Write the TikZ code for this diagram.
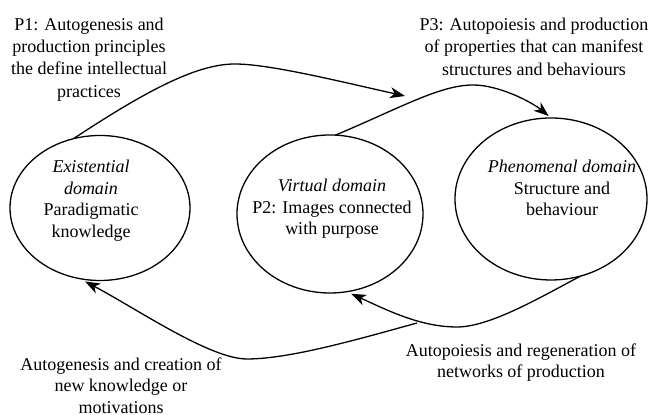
\documentclass[tikz,border=0pt]{standalone}
\usepackage{fontspec}
\setmainfont{Liberation Serif}
\usetikzlibrary{arrows.meta,shapes.geometric}
\begin{document}
\begin{tikzpicture}[x=0.5pt,y=-0.5pt,
  domainbox/.style={ellipse, draw, line width=0.65pt, inner sep=0pt, outer sep=0pt},
  txt/.style={align=center, inner sep=0pt, font=\fontsize{9}{10.75}\selectfont},
  toptxt/.style={align=center, inner sep=0pt, font=\fontsize{9}{11.1}\selectfont},
  flow/.style={draw, line width=0.65pt, -{Stealth[length=7.5pt,width=5.5pt,inset=2.2pt]}}]
\useasboundingbox (0,0) rectangle (650,415);

% the three domains
\node[domainbox, minimum width=90pt, minimum height=72.5pt] (exist) at (100,208) {};
\node[domainbox, minimum width=93pt, minimum height=79pt]   (virt)  at (330,214) {};
\node[domainbox, minimum width=96pt, minimum height=81pt]   (phen)  at (551,199) {};

% texts inside the domains
\node[txt] (existtxt) at (91,200.8) {\textit{Existential}\\\textit{domain}\\Paradigmatic\\knowledge};
\node[txt] (virttxt)  at (332,208.8) {\textit{Virtual domain}\\P2: Images connected\\with purpose};
\node[txt] (phentxt)  at (562,188) {\textit{Phenomenal domain}\\Structure and\\behaviour};

% process labels
\node[toptxt] (p1) at (89,59.5) {P1: Autogenesis and\\production principles\\the define intellectual\\practices};
\node[toptxt] (p3) at (534,46.7) {P3: Autopoiesis and production\\of properties that can manifest\\structures and behaviours};
\node[txt] (autogen) at (121,385.5) {Autogenesis and creation of\\new knowledge or\\motivations};
\node[txt] (autopoi) at (521,362.5) {Autopoiesis and regeneration of\\networks of production};

% free ends of connectors
\coordinate (p1tip)   at (405,96);
\coordinate (regroot) at (417,323);

% connectors
\draw[flow] (exist.111) .. controls (154,85.5) and (200,64) .. (235,64)
                        .. controls (270,64) and (342,82) .. (p1tip);
\draw[flow, shorten >=1.5pt] (virt.86) .. controls (400,108) and (440,85) .. (473,85)
                        .. controls (500,85) and (533,103) .. (phen.north);
\draw[flow, shorten >=2.5pt] (phen.291) .. controls (541,297) and (490,327) .. (457,327)
                        .. controls (420,327) and (387,310) .. (virt.282);
\draw[flow, shorten >=3pt] (regroot) .. controls (359,339) and (290,359) .. (247,359)
                        .. controls (210,359) and (137,309) .. (exist.254);
\end{tikzpicture}
\end{document}
